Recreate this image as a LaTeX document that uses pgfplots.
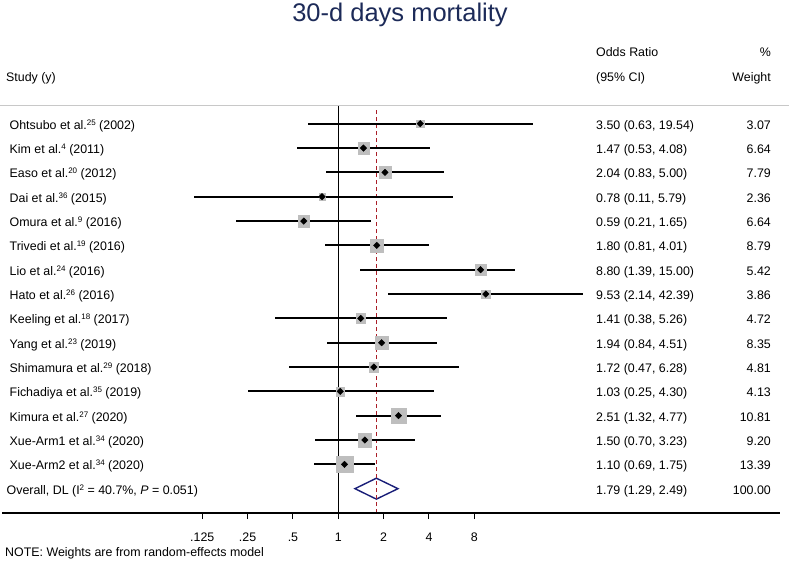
\documentclass[border=0pt]{standalone}
\usepackage{fontspec}
\setmainfont{Liberation Sans}
\usepackage{pgfplots}
\usepackage{pgfplotstable}
\pgfplotsset{compat=1.18}
\definecolor{boxgray}{RGB}{190,190,190}
\definecolor{refred}{RGB}{170,30,40}
\definecolor{dianavy}{RGB}{25,30,120}
\definecolor{titlenavy}{RGB}{28,42,88}
\definecolor{topgray}{RGB}{200,200,200}
\newcommand\sps[1]{\raisebox{4bp}{\fontsize{8bp}{8bp}\selectfont #1}}

% row: 15 = top study, 0 = overall; ep = hi - or, em = or - lo
\pgfplotstableread{
row or lo hi w ep em
15 3.50 0.63 19.54 3.07 16.04 2.87
14 1.47 0.53 4.08 6.64 2.61 0.94
13 2.04 0.83 5.00 7.79 2.96 1.21
12 0.78 0.11 5.79 2.36 5.01 0.67
11 0.59 0.21 1.65 6.64 1.06 0.38
10 1.80 0.81 4.01 8.79 2.21 0.99
9 8.80 1.39 15.00 5.42 6.20 7.41
8 9.53 2.14 42.39 3.86 32.86 7.39
7 1.41 0.38 5.26 4.72 3.85 1.03
6 1.94 0.84 4.51 8.35 2.57 1.10
5 1.72 0.47 6.28 4.81 4.56 1.25
4 1.03 0.25 4.30 4.13 3.27 0.78
3 2.51 1.32 4.77 10.81 2.26 1.19
2 1.50 0.70 3.23 9.20 1.73 0.80
1 1.10 0.69 1.75 13.39 0.65 0.41
}\studies

\begin{document}
\begin{tikzpicture}
\begin{axis}[
  at={(0,0)}, anchor=north west,
  scale only axis, width=789bp, height=513bp,
  xmode=log, log basis x=2,
  xmin=0.005683, xmax=980.9,
  ymin=-1, ymax=20.084,
  axis line style={draw=none},
  ytick=\empty,
  xtick={0.125,0.25,0.5,1,2,4,8},
  xticklabels={.125,.25,.5,1,2,4,8},
  xtick pos=bottom, tick align=outside,
  major tick length=6bp,
  x tick style={black, line width=1bp},
  xticklabel style={font=\fontsize{12.4bp}{14bp}\selectfont, anchor=base, yshift=-22bp},
  clip=false,
]
% weight boxes
\addplot[scatter, only marks, mark=square*,
  scatter/use mapped color={draw=boxgray, fill=boxgray},
  visualization depends on={\thisrow{w} \as \wt},
  scatter/@pre marker code/.append style={/tikz/mark size={2.3*sqrt(\wt)-0.2}}]
  table[x=or, y=row, meta=w] {\studies};
% overall diamond
\addplot[dianavy, line width=1.4bp, fill=white, mark=none]
  coordinates {(1.29,0) (1.79,0.43) (2.49,0) (1.79,-0.43)} -- cycle;
% null line
\addplot[black, line width=1.1bp, mark=none] coordinates {(1,-1) (1,15.77)};
% overall effect line
\addplot[refred, line width=1.1bp, mark=none, dash pattern=on 4bp off 3bp]
  coordinates {(1.79,-1) (1.79,15.6)};
% confidence intervals
\addplot[only marks, mark=none,
  error bars/.cd, x dir=both, x explicit, error mark=none,
  error bar style={black, line width=1.8bp}]
  table[x=or, y=row, x error plus=ep, x error minus=em] {\studies};
% point estimates
\addplot[only marks, mark=square*, mark size=2.3bp, black,
  mark options={rotate=45}]
  table[x=or, y=row] {\studies};
\end{axis}

\draw[topgray, line width=1bp] (0,-105bp) -- (789bp,-105bp);
\draw[black, line width=1.1bp] (2bp,-513bp) -- (780bp,-513bp);

\node[anchor=base, inner sep=0, text=titlenavy,
  font=\fontsize{25.5bp}{30bp}\selectfont] at (400bp,-21bp) {30-d days mortality};

\begin{scope}[every node/.style={inner sep=0, font=\fontsize{12.4bp}{14bp}\selectfont}]
\node[anchor=base west] at (596bp,-56.5bp) {Odds Ratio};
\node[anchor=base west] at (596bp,-81.5bp) {(95\% CI)};
\node[anchor=base east] at (771bp,-56.5bp) {\%};
\node[anchor=base east] at (771bp,-81.5bp) {Weight};
\node[anchor=base west] at (6bp,-81.5bp) {Study (y)};
\foreach \i/\lab/\ci/\wt in {
 0/{Ohtsubo et al.\sps{25} (2002)}/{3.50 (0.63, 19.54)}/3.07,
 1/{Kim et al.\sps{4} (2011)}/{1.47 (0.53, 4.08)}/6.64,
 2/{Easo et al.\sps{20} (2012)}/{2.04 (0.83, 5.00)}/7.79,
 3/{Dai et al.\sps{36} (2015)}/{0.78 (0.11, 5.79)}/2.36,
 4/{Omura et al.\sps{9} (2016)}/{0.59 (0.21, 1.65)}/6.64,
 5/{Trivedi et al.\sps{19} (2016)}/{1.80 (0.81, 4.01)}/8.79,
 6/{Lio et al.\sps{24} (2016)}/{8.80 (1.39, 15.00)}/5.42,
 7/{Hato et al.\sps{26} (2016)}/{9.53 (2.14, 42.39)}/3.86,
 8/{Keeling et al.\sps{18} (2017)}/{1.41 (0.38, 5.26)}/4.72,
 9/{Yang et al.\sps{23} (2019)}/{1.94 (0.84, 4.51)}/8.35,
 10/{Shimamura et al.\sps{29} (2018)}/{1.72 (0.47, 6.28)}/4.81,
 11/{Fichadiya et al.\sps{35} (2019)}/{1.03 (0.25, 4.30)}/4.13,
 12/{Kimura et al.\sps{27} (2020)}/{2.51 (1.32, 4.77)}/10.81,
 13/{Xue-Arm1 et al.\sps{34} (2020)}/{1.50 (0.70, 3.23)}/9.20,
 14/{Xue-Arm2 et al.\sps{34} (2020)}/{1.10 (0.69, 1.75)}/13.39}{
  \pgfmathsetmacro{\yb}{-(123.7+24.33*\i+5.5)}
  \node[anchor=base west] at (9.5bp,\yb bp) {\lab};
  \node[anchor=base west] at (596bp,\yb bp) {\ci};
  \node[anchor=base east] at (771bp,\yb bp) {\wt};
}
\pgfmathsetmacro{\yb}{-(123.7+24.33*15+5.5)}
\node[anchor=base west] at (6.5bp,\yb bp) {Overall, DL (I\sps{2} = 40.7\%, \textit{P} = 0.051)};
\node[anchor=base west] at (596bp,\yb bp) {1.79 (1.29, 2.49)};
\node[anchor=base east] at (771bp,\yb bp) {100.00};
\node[anchor=base west] at (5bp,-556bp) {NOTE: Weights are from random-effects model};
\end{scope}

\pgfresetboundingbox
\useasboundingbox (0,0) rectangle (789bp,-564bp);
\end{tikzpicture}
\end{document}
